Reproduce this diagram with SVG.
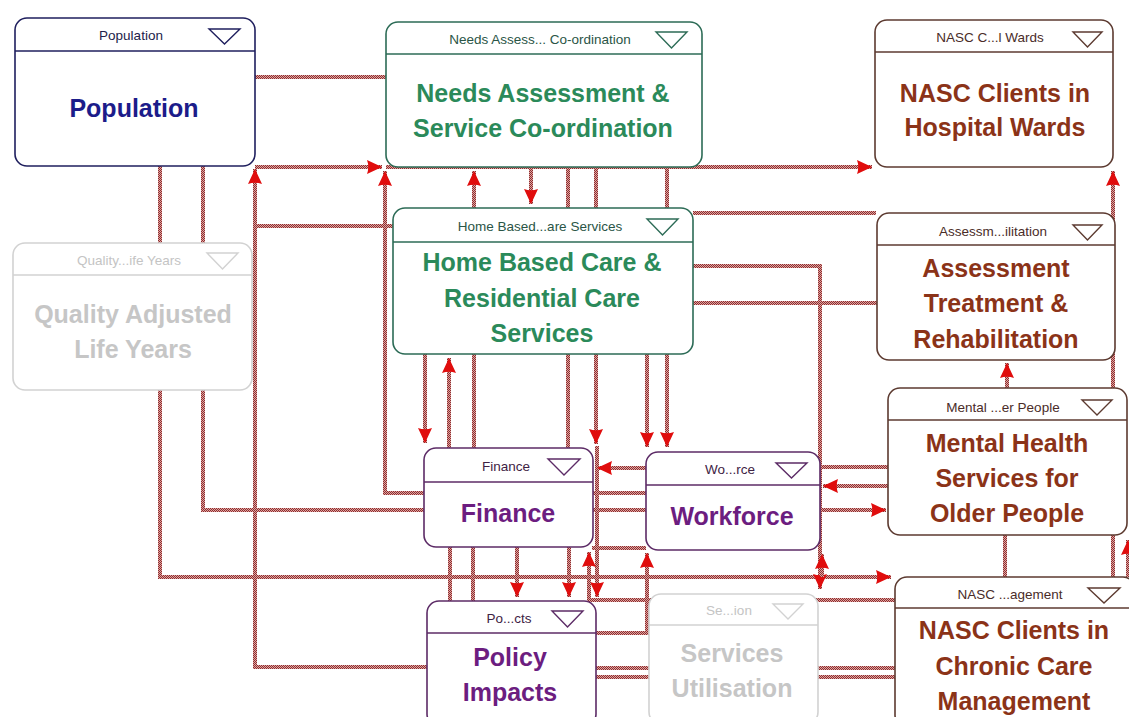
<svg xmlns="http://www.w3.org/2000/svg" width="1129" height="717" viewBox="0 0 1129 717">
  <defs>
    <!-- dithered red/brown fill used for every link -->
    <pattern id="chk" width="2" height="2" patternUnits="userSpaceOnUse">
      <rect width="2" height="2" fill="#e2a2a0"/>
      <rect width="1" height="1" fill="#8a3030"/>
      <rect x="1" y="1" width="1" height="1" fill="#8a3030"/>
    </pattern>
    <marker id="ah" markerUnits="userSpaceOnUse" markerWidth="17" markerHeight="16" refX="15" refY="7.5" orient="auto">
      <path d="M0,0.5 L15,7.5 L0,14.5 Q2.5,7.5 0,0.5 Z" fill="#e00d0d"/>
    </marker>
    <style>
      .c { fill: none; stroke: url(#chk); stroke-width: 4; }
      .a { marker-end: url(#ah); }
      .box { fill: #fff; stroke-width: 1.6; }
      .sep { stroke-width: 1.6; }
      .tri { fill: #fff; stroke-width: 1.4; }
      .hd { font-family: "Liberation Sans", Arial, sans-serif; font-size: 13.5px; text-anchor: middle; }
      .mt { font-family: "Liberation Sans", Arial, sans-serif; font-size: 25px; font-weight: bold; text-anchor: middle; }
      .navy { stroke: #1f1f5e; }
      .green { stroke: #2c6b56; }
      .brown { stroke: #5c3a30; }
      .purple { stroke: #5c2b66; }
      .grey { stroke: #d2d2d2; }
    </style>
  </defs>

  <rect width="1129" height="717" fill="#fff"/>

  <g id="connectors">
    <path class="c" d="M254,77 H386"/>
    <path class="c a" d="M255,167 H382"/>
    <path class="c a" d="M386,167 H872"/>
    <path class="c a" d="M428,667 H255 V169"/>
    <path class="c" d="M255,226 H393"/>
    <path class="c a" d="M646,493 H385 V171"/>
    <path class="c" d="M203,166 V510 H646"/>
    <path class="c a" d="M160,166 V577 H891"/>
    <path class="c a" d="M474,448 V171"/>
    <path class="c a" d="M531,167 V204"/>
    <path class="c" d="M568,167 V448"/>
    <path class="c a" d="M596,167 V444"/>
    <path class="c a" d="M597,446 V597"/>
    <path class="c a" d="M667,167 V447"/>
    <path class="c a" d="M647,354 V447"/>
    <path class="c a" d="M425,354 V443"/>
    <path class="c a" d="M449,448 V358"/>
    <path class="c" d="M693,213 H876"/>
    <path class="c a" d="M692,266 H820 V589"/>
    <path class="c a" d="M822,577 V554"/>
    <path class="c" d="M692,303 H877"/>
    <path class="c a" d="M646,468 H597"/>
    <path class="c" d="M592,548 H646"/>
    <path class="c" d="M820,467 H889"/>
    <path class="c a" d="M889,486 H823"/>
    <path class="c a" d="M820,510 H886"/>
    <path class="c a" d="M517,547 V597"/>
    <path class="c a" d="M569,547 V597"/>
    <path class="c" d="M450,547 V601"/>
    <path class="c" d="M473,547 V601"/>
    <path class="c a" d="M895,600 H589 V552"/>
    <path class="c a" d="M596,633 H647 V553"/>
    <path class="c" d="M596,668 H895"/>
    <path class="c" d="M596,677 H895"/>
    <path class="c a" d="M1007,388 V363"/>
    <path class="c a" d="M1113,577 V171"/>
    <path class="c" d="M1005,535 V577"/>
    <path class="c a" d="M1128,577 V540"/>
  </g>

  <g id="population">
    <rect class="box navy" x="15" y="18" width="240" height="148" rx="12"/>
    <line class="sep navy" x1="15" y1="51" x2="255" y2="51"/>
    <path class="tri navy" d="M209,29 H240 L224.5,44 Z"/>
    <text class="hd" x="131" y="40" fill="#22224a">Population</text>
    <text class="mt" x="134" y="117" fill="#1c1c8a">Population</text>
  </g>

  <g id="needs-assessment">
    <rect class="box green" x="386" y="22" width="316" height="145" rx="12"/>
    <line class="sep green" x1="386" y1="54" x2="702" y2="54"/>
    <path class="tri green" d="M656,32 H687 L671.5,48 Z"/>
    <text class="hd" x="540" y="44" fill="#2a5546">Needs Assess... Co-ordination</text>
    <text class="mt" fill="#2b8a5a"><tspan x="543" y="102">Needs Assessment &amp;</tspan><tspan x="543" y="137">Service Co-ordination</tspan></text>
  </g>

  <g id="nasc-hospital">
    <rect class="box brown" x="875" y="20" width="238" height="147" rx="12"/>
    <line class="sep brown" x1="875" y1="52" x2="1113" y2="52"/>
    <path class="tri brown" d="M1073,32 H1102 L1087.5,47 Z"/>
    <text class="hd" x="990" y="42" fill="#4a2c28">NASC C...l Wards</text>
    <text class="mt" fill="#8b3318"><tspan x="995" y="102">NASC Clients in</tspan><tspan x="995" y="136">Hospital Wards</tspan></text>
  </g>

  <g id="qaly">
    <rect class="box grey" x="13" y="243" width="239" height="147" rx="12"/>
    <line class="sep grey" x1="13" y1="275" x2="252" y2="275"/>
    <path class="tri grey" d="M207,253 H238 L222.5,269 Z"/>
    <text class="hd" x="129" y="265" fill="#c4c4c4">Quality...ife Years</text>
    <text class="mt" fill="#c6c6c6"><tspan x="133" y="323">Quality Adjusted</tspan><tspan x="133" y="358">Life Years</tspan></text>
  </g>

  <g id="home-based">
    <rect class="box green" x="393" y="208" width="300" height="146" rx="12"/>
    <line class="sep green" x1="393" y1="242" x2="693" y2="242"/>
    <path class="tri green" d="M647,219 H678 L662.5,235 Z"/>
    <text class="hd" x="540" y="231" fill="#2a5546">Home Based...are Services</text>
    <text class="mt" fill="#2b8a5a"><tspan x="542" y="271">Home Based Care &amp;</tspan><tspan x="542" y="307">Residential Care</tspan><tspan x="542" y="342">Services</tspan></text>
  </g>

  <g id="assessment">
    <rect class="box brown" x="877" y="213" width="238" height="147" rx="12"/>
    <line class="sep brown" x1="877" y1="245" x2="1115" y2="245"/>
    <path class="tri brown" d="M1073,225 H1102 L1087.5,240 Z"/>
    <text class="hd" x="993" y="236" fill="#4a2c28">Assessm...ilitation</text>
    <text class="mt" fill="#8b3318"><tspan x="996" y="277">Assessment</tspan><tspan x="996" y="312">Treatment &amp;</tspan><tspan x="996" y="348">Rehabilitation</tspan></text>
  </g>

  <g id="mental-health">
    <rect class="box brown" x="888" y="388" width="239" height="147" rx="12"/>
    <line class="sep brown" x1="888" y1="420" x2="1127" y2="420"/>
    <path class="tri brown" d="M1082,400 H1112 L1097,415 Z"/>
    <text class="hd" x="1003" y="412" fill="#4a2c28">Mental ...er People</text>
    <text class="mt" fill="#8b3318"><tspan x="1007" y="452">Mental Health</tspan><tspan x="1007" y="487">Services for</tspan><tspan x="1007" y="522">Older People</tspan></text>
  </g>

  <g id="nasc-chronic">
    <rect class="box brown" x="895" y="577" width="240" height="150" rx="12"/>
    <line class="sep brown" x1="895" y1="608" x2="1135" y2="608"/>
    <path class="tri brown" d="M1088,588 H1120 L1104,603 Z"/>
    <text class="hd" x="1010" y="599" fill="#4a2c28">NASC ...agement</text>
    <text class="mt" fill="#8b3318"><tspan x="1014" y="639">NASC Clients in</tspan><tspan x="1014" y="675">Chronic Care</tspan><tspan x="1014" y="710">Management</tspan></text>
  </g>

  <g id="finance">
    <rect class="box purple" x="424" y="448" width="169" height="99" rx="12"/>
    <line class="sep purple" x1="424" y1="482" x2="593" y2="482"/>
    <path class="tri purple" d="M548,459 H580 L564,475 Z"/>
    <text class="hd" x="506" y="471" fill="#3e2244">Finance</text>
    <text class="mt" x="508" y="522" fill="#6c1d80">Finance</text>
  </g>

  <g id="workforce">
    <rect class="box purple" x="646" y="452" width="174" height="98" rx="12"/>
    <line class="sep purple" x1="646" y1="485" x2="820" y2="485"/>
    <path class="tri purple" d="M776,463 H807 L791.5,478 Z"/>
    <text class="hd" x="730" y="474" fill="#3e2244">Wo...rce</text>
    <text class="mt" x="732" y="525" fill="#6c1d80">Workforce</text>
  </g>

  <g id="policy-impacts">
    <rect class="box purple" x="427" y="601" width="169" height="125" rx="12"/>
    <line class="sep purple" x1="427" y1="633" x2="596" y2="633"/>
    <path class="tri purple" d="M552,611 H583 L567.5,627 Z"/>
    <text class="hd" x="509" y="623" fill="#3e2244">Po...cts</text>
    <text class="mt" fill="#6c1d80"><tspan x="510" y="666">Policy</tspan><tspan x="510" y="701">Impacts</tspan></text>
  </g>

  <g id="services-utilisation">
    <rect class="box grey" x="649" y="594" width="169" height="130" rx="12"/>
    <line class="sep grey" x1="649" y1="625" x2="818" y2="625"/>
    <path class="tri grey" d="M773,604 H803 L788,619 Z"/>
    <text class="hd" x="729" y="615" fill="#c4c4c4">Se...ion</text>
    <text class="mt" fill="#c6c6c6"><tspan x="732" y="662">Services</tspan><tspan x="732" y="697">Utilisation</tspan></text>
  </g>
</svg>
